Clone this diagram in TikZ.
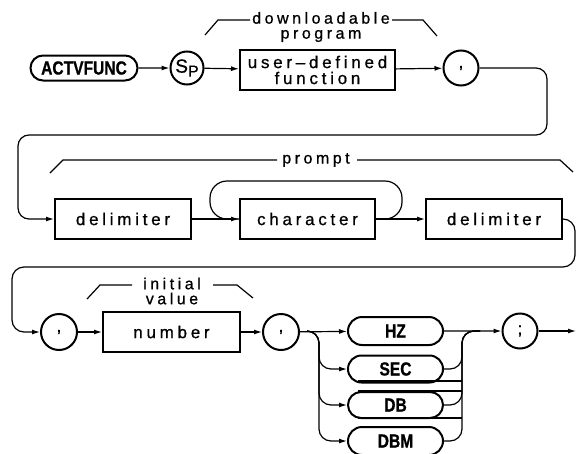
\documentclass[tikz,border=0pt]{standalone}
\usepackage{fontspec}
\setmainfont{Liberation Sans}
\newfontfamily\lbl{Liberation Sans}[LetterSpace=22,FakeBold=0.8]
\newfontfamily\kw{Liberation Sans}[FakeStretch=0.82,FakeBold=0.8]
\usetikzlibrary{shapes.misc,arrows.meta}
\tikzset{
  conn/.style={line width=1.2pt},
  arr/.style={conn,-{Latex[length=8pt,width=5pt]}},
  boxn/.style={draw,line width=2pt,rectangle,minimum height=40pt,inner sep=0pt,
    font=\lbl\fontsize{17}{16}\selectfont,align=center},
  pill/.style={draw,line width=2pt,rounded rectangle,inner sep=0pt,
    font=\kw\bfseries\fontsize{19}{19}\selectfont},
  circ/.style={draw,line width=2pt,circle,inner sep=0pt,
    font=\lbl\fontsize{17}{17}\selectfont},
  brk/.style={line width=1.2pt},
  brktext/.style={font=\lbl\fontsize{16}{15}\selectfont,align=center,inner sep=0pt},
  artifact/.style={line width=2.5pt}
}
\begin{document}
\begin{tikzpicture}[x=1pt,y=-1pt]
\useasboundingbox (0,0) rectangle (576,453);
% row 1
\node[pill,minimum width=107pt,minimum height=25pt] (act) at (84,68) {ACTVFUNC};
\node[circ,minimum size=33pt] (sp) at (187,68) {\fontsize{19}{19}\selectfont S\raisebox{-4pt}{\fontsize{16}{16}\selectfont P}};
\node[boxn,minimum width=155pt] (udf) at (317.5,70) {user\textendash defined\\function};
\node[circ,minimum size=35pt] (c1) at (461,68) {,};
\node[brktext] (t1) at (321,27) {downloadable\\program};
\draw[brk] (205,35) -- (218,20) -- (250,20);
\draw[brk] (392,20) -- (423,20) -- (437,36);
\draw[arr] (act) -- (sp);
\draw[arr] (sp) -- (udf);
\draw[arr] (udf) -- (c1);
% row 2
\node[boxn,minimum width=136pt] (del1) at (123,219) {delimiter};
\node[boxn,minimum width=135pt] (chr) at (307.5,219) {character};
\node[boxn,minimum width=136pt] (del2) at (494,219) {delimiter};
\node[brktext] (t2) at (316,160) {prompt};
\draw[brk] (50,173) -- (63,160) -- (277,160);
\draw[brk] (357,160) -- (560,160) -- (573,172);
\draw[arr,rounded corners=11pt] (c1.east) -- (547,68) -- (547,135) -- (18,135) -- (18,219) -- (del1.west);
\draw[arr] (del1) -- (chr);
\draw[conn,rounded corners=17pt] (chr.east) -- (402,219) -- (402,181) -- (210,181) -- (210,219) -- (chr.west);
\draw[arr] (chr) -- (del2);
% row 3
\node[circ,minimum size=36pt] (c2) at (59,332) {,};
\node[boxn,minimum width=137pt] (num) at (171.5,332) {number};
\node[circ,minimum size=36pt] (c3) at (281,332) {,};
\node[brktext] (t3) at (172,291) {initial\\value};
\draw[brk] (87,299) -- (100,285) -- (132,285);
\draw[brk] (213,285) -- (237,285) -- (253,298);
\draw[arr,rounded corners=12pt] (del2.east) -- (575,219) -- (575,267) -- (12,267) -- (12,332) -- (c2.west);
\draw[arr] (c2) -- (num);
\draw[arr] (num) -- (c3);
\node[pill,minimum width=95pt,minimum height=28pt] (hz) at (395.5,331) {HZ};
\node[pill,minimum width=95pt,minimum height=27pt] (sec) at (395.5,369) {SEC};
\node[pill,minimum width=95pt,minimum height=26pt] (db) at (395.5,405) {DB};
\node[pill,minimum width=95pt,minimum height=28pt] (dbm) at (395.5,441) {DBM};
\node[circ,minimum size=35pt] (semi) at (520,331) {;};
\coordinate (endp) at (576,331);
\draw[arr] (c3) -- (hz);
\draw[arr,rounded corners=12pt] (307,331) -- (319,331) -- (319,369) -- (sec.west);
\draw[arr,rounded corners=12pt] (307,331) -- (319,331) -- (319,405) -- (db.west);
\draw[arr,rounded corners=12pt] (307,331) -- (319,331) -- (319,441) -- (dbm.west);
\draw[arr] (hz) -- (semi);
\draw[conn,rounded corners=12pt] (sec.east) -- (462,369) -- (462,331) -- (480,331);
\draw[conn,rounded corners=12pt] (db.east) -- (462,405) -- (462,331) -- (480,331);
\draw[conn,rounded corners=12pt] (dbm.east) -- (462,441) -- (462,331) -- (480,331);
\draw[arr] (semi) -- (endp);
\draw[artifact] (358,381) -- (462,381);
\draw[artifact] (358,391) -- (462,391);
\draw[artifact] (358,418) -- (462,418);
\end{tikzpicture}
\end{document}
